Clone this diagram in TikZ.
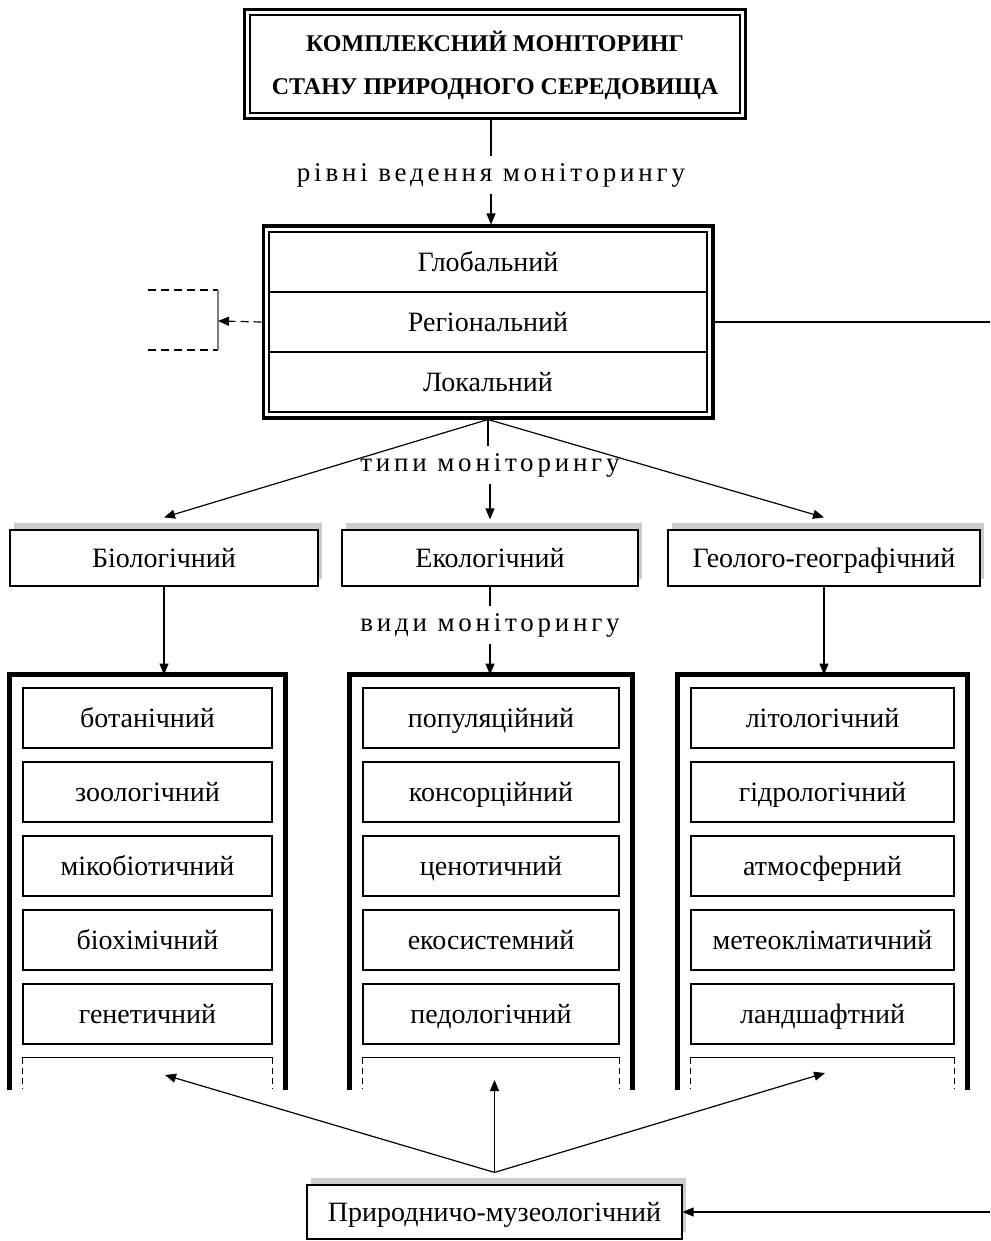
\documentclass[tikz,border=0pt]{standalone}
\usepackage{fontspec}
\setmainfont{Liberation Serif}
\newfontfamily\spacedfont[LetterSpace=14]{Liberation Serif}
\usetikzlibrary{arrows.meta,positioning,fit,shadows}

\begin{document}
\begin{tikzpicture}[
    x=0.5pt, y=-0.5pt,
    font=\fontsize{14}{16}\selectfont,
    arr/.style={-{Triangle[length=5.5pt,width=4.5pt]}, line width=0.6pt},
    thinbox/.style={rectangle, draw, line width=0.6pt, inner sep=0pt, align=center},
    onerow/.style={text height=11pt, text depth=2pt},
    framebox/.style={rectangle, draw, line width=1.6pt, inner sep=2.5pt},
    lvlrow/.style={thinbox, onerow, line width=0.9pt, minimum width=219pt, minimum height=30pt},
    typebox/.style={thinbox, onerow, fill=white, minimum height=28pt, drop shadow={shadow xshift=2pt, shadow yshift=3.5pt, opacity=1, fill=gray!40}},
    item/.style={thinbox, onerow, minimum height=30pt},
    colframe/.style={rectangle, minimum height=207.5pt, inner sep=0pt},
    colline/.style={line width=2.2pt},
    levellabel/.style={font=\spacedfont\fontsize{13.5}{15}\selectfont},
    dashline/.style={line width=0.6pt, dash pattern=on 4pt off 2.5pt}
]
\useasboundingbox (0,0) rectangle (990,1241);

% title
\node[thinbox, minimum width=245pt, minimum height=49pt, font=\bfseries\fontsize{12}{21.5}\selectfont] (title) at (495,64)
    {\rule{0pt}{12pt}КОМПЛЕКСНИЙ МОНІТОРИНГ\\СТАНУ ПРИРОДНОГО СЕРЕДОВИЩА};
\node[framebox, fit=(title)] (titleframe) {};

% levels
\node[levellabel] (lvltxt) at (491,175) {рівні ведення моніторингу};
\node[lvlrow] (glob) at (488,262) {Глобальний};
\node[lvlrow] (reg) at (488,322) {Регіональний};
\node[lvlrow] (lok) at (488,382) {Локальний};
\node[framebox, fit=(glob)(lok)] (lvl) {};

\draw[line width=0.6pt] (lvltxt.north |- titleframe.south) -- (lvltxt.north);
\draw[arr] (lvltxt.south) -- (lvltxt.south |- lvl.north);

% left dashed bracket
\coordinate (brTop) at (148,290);
\coordinate (brBot) at (148,350);
\coordinate (brMid) at (218,321);
\draw[dashline] (brTop) -- (brTop -| brMid);
\draw[dashline] (brBot) -- (brBot -| brMid);
\draw[gray, line width=1.4pt] (brTop -| brMid) -- (brBot -| brMid);
\draw[arr, dashline] (lvl.west) -- (brMid);

% right connector
\coordinate (rightTop) at (990,322);
\coordinate (rightBot) at (990,1212);
\draw[line width=0.6pt] (lvl.east) -- (rightTop);

% types
\node[levellabel] (typtxt) at (490,465) {типи моніторингу};
\node[typebox, minimum width=154pt] (bio) at (164,558) {Біологічний};
\node[typebox, minimum width=148pt] (eco) at (490,558) {Екологічний};
\node[typebox, minimum width=156pt] (geo) at (824,558) {Геолого-географічний};

\draw[line width=0.6pt] (lvl.south) -- (lvl.south |- typtxt.north);
\draw[arr] (typtxt.south) -- ([yshift=5pt]eco.north);
\draw[arr] (lvl.south) -- ([yshift=6pt]bio.north);
\draw[arr] (lvl.south) -- ([yshift=6pt]geo.north);

% columns
\node[colframe, minimum width=137.5pt] (bioCol) at (147.5,882.5) {};
\node[colframe, minimum width=141pt] (ecoCol) at (491,882.5) {};
\node[colframe, minimum width=144.5pt] (geoCol) at (822.5,882.5) {};
\foreach \c in {bio,eco,geo}
  \draw[colline] (\c Col.south west) |- (\c Col.north) -| (\c Col.south east);

\node[levellabel] (kindtxt) at (490,625) {види моніторингу};
\draw[arr] (bio.south) -- (bio.south |- bioCol.north);
\draw[line width=0.6pt] (eco.south) -- (eco.south |- kindtxt.north);
\draw[arr] (kindtxt.south) -- (kindtxt.south |- ecoCol.north);
\draw[arr] (geo.south) -- (geo.south |- geoCol.north);

\foreach \name [count=\i] in {ботанічний,зоологічний,мікобіотичний,біохімічний,генетичний}
  \node[item, minimum width=124.5pt] (bio\i) at (147.5,{718+74*(\i-1)}) {\name};
\foreach \name [count=\i] in {популяційний,консорційний,ценотичний,екосистемний,педологічний}
  \node[item, minimum width=128pt] (eco\i) at (491,{718+74*(\i-1)}) {\name};
\foreach \name [count=\i] in {літологічний,гідрологічний,атмосферний,метеокліматичний,ландшафтний}
  \node[item, minimum width=131.5pt] (geo\i) at (822.5,{718+74*(\i-1)}) {\name};

% open boxes at the bottom of the columns
\foreach \c in {bio,eco,geo} {
  \draw[line width=0.6pt] ([yshift=-6.5pt]\c 5.south west) -- ([yshift=-6.5pt]\c 5.south east);
  \draw[line width=0.6pt, dash pattern=on 3pt off 2pt] ([yshift=-6.5pt]\c 5.south west) -- ([yshift=-22pt]\c 5.south west);
  \draw[line width=0.6pt, dash pattern=on 3pt off 2pt] ([yshift=-6.5pt]\c 5.south east) -- ([yshift=-22pt]\c 5.south east);
}

% museum monitoring
\node[typebox, minimum width=187.5pt, minimum height=27pt] (mus) at (494.5,1212) {Природничо-музеологічний};
\coordinate (bioTip) at (165,1075);
\coordinate (ecoTip) at (494.5,1080);
\coordinate (geoTip) at (825,1073);
\foreach \c in {bio,eco,geo}
  \draw[arr] ([yshift=6pt]mus.north) -- (\c Tip);
\draw[arr] (rightBot) -- (mus.east);

\end{tikzpicture}
\end{document}
